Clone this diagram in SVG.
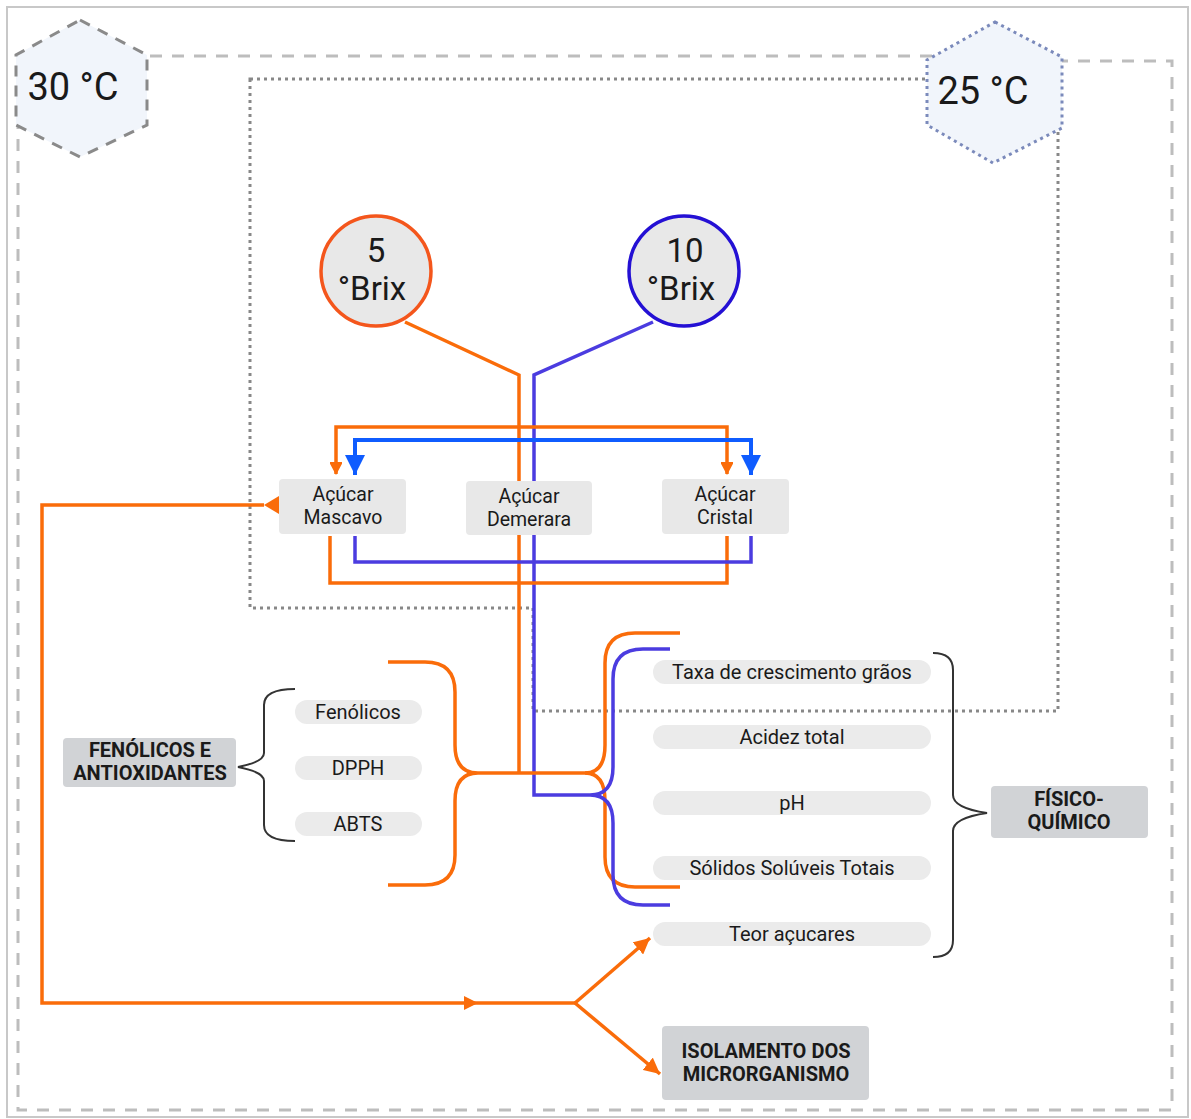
<svg xmlns="http://www.w3.org/2000/svg" width="1191" height="1119" viewBox="0 0 1191 1119">
<style>
.t{font-family:Roboto,"Liberation Sans",sans-serif;fill:#1a1a1a;text-anchor:middle}
.b{font-weight:bold}
.box{fill:#e8e8e8}
.hdr{fill:#d1d3d6}
.pill{fill:#ebebeb}
.or{fill:none;stroke:#fa6c0a;stroke-width:3.5}
.pu{fill:none;stroke:#4b3ce0;stroke-width:3.5}
.bl{fill:none;stroke:#0f5cff;stroke-width:4}
.br{fill:none;stroke:#333;stroke-width:2}
</style>
<defs>
<marker id="ao" viewBox="0 0 14 12" refX="12" refY="6" markerWidth="14" markerHeight="12" markerUnits="userSpaceOnUse" orient="auto-start-reverse"><path d="M0,-1 L13,6 L0,13 z" fill="#fa6c0a"/></marker>
<marker id="ab" viewBox="0 0 20 20" refX="20" refY="10" markerWidth="20" markerHeight="20" markerUnits="userSpaceOnUse" orient="auto-start-reverse"><path d="M0,0 L20,10 L0,20 z" fill="#0f5cff"/></marker>
<marker id="ao2" viewBox="0 0 16 16" refX="16" refY="8" markerWidth="16" markerHeight="16" markerUnits="userSpaceOnUse" orient="auto"><path d="M0,0 L16,8 L0,16 z" fill="#fa6c0a"/></marker>
</defs>
<rect x="0" y="0" width="1191" height="1119" fill="#fff"/>
<rect x="7" y="7" width="1181" height="1110" fill="none" stroke="#c8c8c8" stroke-width="2"/>
<g id="frames">
<path d="M18,56 H990" fill="none" stroke="#bdbdbd" stroke-width="3" stroke-dasharray="12,10"/>
<path d="M990,61 H1172 V1110 H18 V56" fill="none" stroke="#bdbdbd" stroke-width="3" stroke-dasharray="12,10"/>
<path d="M250,79 H1058 V711 H533 V608 H250 Z" fill="none" stroke="#888" stroke-width="3" stroke-dasharray="3,4"/>
</g>
<g id="connectors">
<path class="or" d="M405,322 L519,375 V773"/>
<path class="pu" d="M653,322 L534,375 V795 H590"/>
<path class="or" d="M336,474 V427 H727 V474" marker-start="url(#ao)" marker-end="url(#ao)"/>
<path class="bl" d="M355,475 V440 H751 V475" marker-start="url(#ab)" marker-end="url(#ab)"/>
<path class="or" d="M330,536 V583 H727 V536"/>
<path class="pu" d="M355,536 V562 H751 V536"/>
<path class="or" d="M388,662 H425 Q455,662 455,692 V745 Q455,773 478,773 Q455,773 455,801 V855 Q455,885 425,885 H388"/>
<path class="or" d="M478,773 H588"/>
<path class="or" d="M680,633 H635 Q605,633 605,663 V745 Q605,773 585,773 Q605,773 605,801 V857 Q605,887 635,887 H680"/>
<path class="pu" d="M670,649 H643 Q613,649 613,679 V767 Q613,795 590,795 Q613,795 613,823 V875 Q613,905 643,905 H670"/>
<path class="or" d="M264,505 H42 V1003 H575"/>
<path d="M279,496 L264,505 L279,514 z" fill="#fa6c0a"/>
<path d="M464,996 L478,1003 L464,1010 z" fill="#fa6c0a"/>
<path class="or" d="M575,1003 L650,938" marker-end="url(#ao2)"/>
<path class="or" d="M575,1003 L660,1074" marker-end="url(#ao2)"/>
<path class="br" d="M295,689 Q264,689 264,705 V753 Q264,762 238,767 Q264,772 264,781 V825 Q264,841 295,841"/>
<path class="br" d="M933,653 Q953,653 953,670 V795 Q953,808 987,813 Q953,818 953,831 V940 Q953,957 933,957"/>
</g>
<g id="hex30">
<polygon points="80,20 147,55 147,125 80,157 16,125 16,55" fill="#f1f5fb" stroke="#8a8a8a" stroke-width="3" stroke-dasharray="11,9"/>
<text class="t" x="73" y="100" font-size="38">30 °C</text>
</g>
<g id="hex25">
<polygon points="995,22 1062,57 1062,128 993,163 927,125 927,60" fill="#f1f5fb" stroke="#7b8abb" stroke-width="3" stroke-dasharray="3,4"/>
<text class="t" x="983" y="104" font-size="38">25 °C</text>
</g>
<g id="brix5">
<circle cx="376" cy="271" r="55" fill="#e8e8e8" stroke="#f4561c" stroke-width="3.5"/>
<text class="t" x="376" y="262" font-size="33">5</text>
<text class="t" x="372" y="300" font-size="33">°Brix</text>
</g>
<g id="brix10">
<circle cx="684" cy="271" r="55" fill="#e8e8e8" stroke="#2410d4" stroke-width="3.5"/>
<text class="t" x="685" y="262" font-size="33">10</text>
<text class="t" x="681" y="300" font-size="33">°Brix</text>
</g>
<g id="mascavo">
<rect class="box" x="279" y="479" width="127" height="55" rx="4"/>
<text class="t" x="343" y="501" font-size="19.5">Açúcar</text>
<text class="t" x="343" y="524" font-size="19.5">Mascavo</text>
</g>
<g id="demerara">
<rect class="box" x="466" y="481" width="126" height="54" rx="4"/>
<text class="t" x="529" y="503" font-size="19.5">Açúcar</text>
<text class="t" x="529" y="526" font-size="19.5">Demerara</text>
</g>
<g id="cristal">
<rect class="box" x="662" y="479" width="127" height="55" rx="4"/>
<text class="t" x="725" y="501" font-size="19.5">Açúcar</text>
<text class="t" x="725" y="524" font-size="19.5">Cristal</text>
</g>
<g id="fenolicos-antiox">
<rect class="hdr" x="63" y="738" width="173" height="49" rx="4"/>
<text class="t b" x="150" y="757" font-size="20">FENÓLICOS E</text>
<text class="t b" x="150" y="780" font-size="20">ANTIOXIDANTES</text>
</g>
<g id="fenolicos"><rect class="pill" x="295" y="700" width="127" height="24" rx="12"/><text class="t" x="358" y="719" font-size="20">Fenólicos</text></g>
<g id="dpph"><rect class="pill" x="295" y="756" width="127" height="24" rx="12"/><text class="t" x="358" y="775" font-size="20">DPPH</text></g>
<g id="abts"><rect class="pill" x="295" y="812" width="127" height="24" rx="12"/><text class="t" x="358" y="831" font-size="20">ABTS</text></g>
<g id="taxa"><rect class="pill" x="653" y="660" width="278" height="24" rx="12"/><text class="t" x="792" y="679" font-size="20">Taxa de crescimento grãos</text></g>
<g id="acidez"><rect class="pill" x="653" y="725" width="278" height="24" rx="12"/><text class="t" x="792" y="744" font-size="20">Acidez total</text></g>
<g id="ph"><rect class="pill" x="653" y="791" width="278" height="24" rx="12"/><text class="t" x="792" y="810" font-size="20">pH</text></g>
<g id="solidos"><rect class="pill" x="653" y="856" width="278" height="24" rx="12"/><text class="t" x="792" y="875" font-size="20">Sólidos Solúveis Totais</text></g>
<g id="teor"><rect class="pill" x="653" y="922" width="278" height="24" rx="12"/><text class="t" x="792" y="941" font-size="20">Teor açucares</text></g>
<g id="fisico">
<rect class="hdr" x="991" y="786" width="157" height="52" rx="4"/>
<text class="t b" x="1069" y="806" font-size="20">FÍSICO-</text>
<text class="t b" x="1069" y="829" font-size="20">QUÍMICO</text>
</g>
<g id="isolamento">
<rect class="hdr" x="662" y="1026" width="207" height="74" rx="4"/>
<text class="t b" x="766" y="1058" font-size="20">ISOLAMENTO DOS</text>
<text class="t b" x="766" y="1081" font-size="20">MICRORGANISMO</text>
</g>
</svg>
